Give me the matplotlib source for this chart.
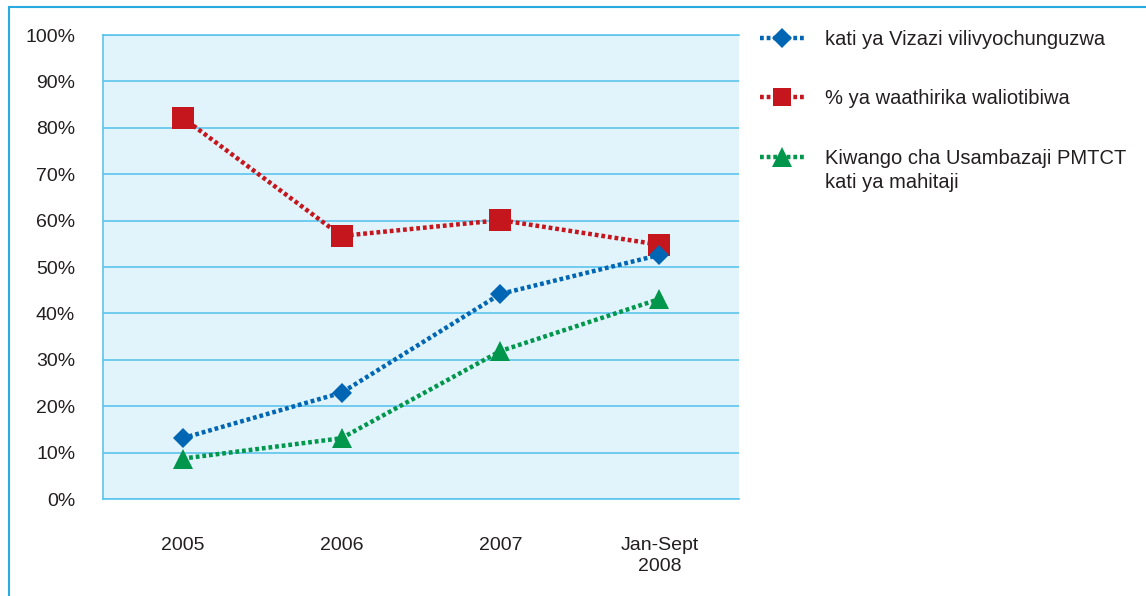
import matplotlib.pyplot as plt
from matplotlib.lines import Line2D
from matplotlib.ticker import FuncFormatter

plt.rcParams['font.family'] = ['Liberation Sans', 'DejaVu Sans']

# data (percent)
periods = ['2005', '2006', '2007', 'Jan-Sept\n2008']
screened = [13.1, 22.9, 44.2, 52.6]
treated = [82.2, 56.7, 60.1, 54.8]
pmtct_cover = [8.7, 13.1, 31.9, 43.1]

series_labels = ['kati ya Vizazi vilivyochunguzwa',
                 '% ya waathirika waliotibiwa',
                 'Kiwango cha Usambazaji PMTCT\nkati ya mahitaji']

BLUE = '#0066b3'
RED = '#c4161c'
GREEN = '#00964b'
FRAME = '#29abe2'
GRID = '#5bc4ee'
PANEL = '#e1f4fc'
TEXT = '#231f20'

W, H = 1146, 596
fx = lambda px: px / W
fy = lambda py: 1 - py / H

fig = plt.figure(figsize=(W / 100, H / 100), dpi=100)
ax = fig.add_axes([fx(103), fy(499), fx(739) - fx(103), fy(35) - fy(499)])
ax.set_facecolor(PANEL)

dots = (0, (0.85, 0.65))
x = range(len(periods))
ax.plot(x, treated, color=RED, lw=3.2, ls=dots, marker='s', ms=16,
        mew=0, zorder=3)
ax.plot(x, pmtct_cover, color=GREEN, lw=3.2, ls=dots, marker='^', ms=14.5,
        mew=0, zorder=4)
ax.plot(x, screened, color=BLUE, lw=3.2, ls=dots, marker='D', ms=10.5,
        mew=0, zorder=5)

ax.set_xlim(-0.5, len(periods) - 0.5)
ax.set_ylim(0, 100)
ax.set_yticks(range(0, 101, 10))
ax.yaxis.set_major_formatter(FuncFormatter(lambda v, _: f'{v:.0f}%'))
ax.set_xticks(list(x))
ax.set_xticklabels(periods, linespacing=1.35)
ax.tick_params(axis='both', length=0, labelsize=14, labelcolor=TEXT)
ax.tick_params(axis='y', pad=20)
ax.tick_params(axis='x', pad=27)

ax.grid(axis='y', color=GRID, lw=1.2)
ax.set_axisbelow(True)
for side in ['left', 'top', 'bottom']:
    ax.spines[side].set_color(GRID)
    ax.spines[side].set_linewidth(1.2)
ax.spines['right'].set_visible(False)

# outer frame
fig.add_artist(Line2D([fx(9), fx(9)], [fy(7), 0], color=FRAME, lw=1.5))
fig.add_artist(Line2D([fx(9), 1], [fy(7), fy(7)], color=FRAME, lw=1.5))

# legend on the right
legend_rows = [38, 97, 157]
legend_style = [(BLUE, 'D', 10.5), (RED, 's', 13), (GREEN, '^', 14)]
for row, (color, mk, ms), label in zip(legend_rows, legend_style, series_labels):
    fig.add_artist(Line2D([fx(760), fx(805)], [fy(row), fy(row)],
                          color=color, lw=3.2, ls=dots))
    fig.add_artist(Line2D([fx(782)], [fy(row)], color=color, marker=mk,
                          ms=ms, mew=0, ls='none'))
    fig.text(fx(825), fy(row - 8), label, fontsize=14.5, color=TEXT,
             va='top', ha='left', linespacing=1.35)

fig.savefig('out.png', dpi=100)
